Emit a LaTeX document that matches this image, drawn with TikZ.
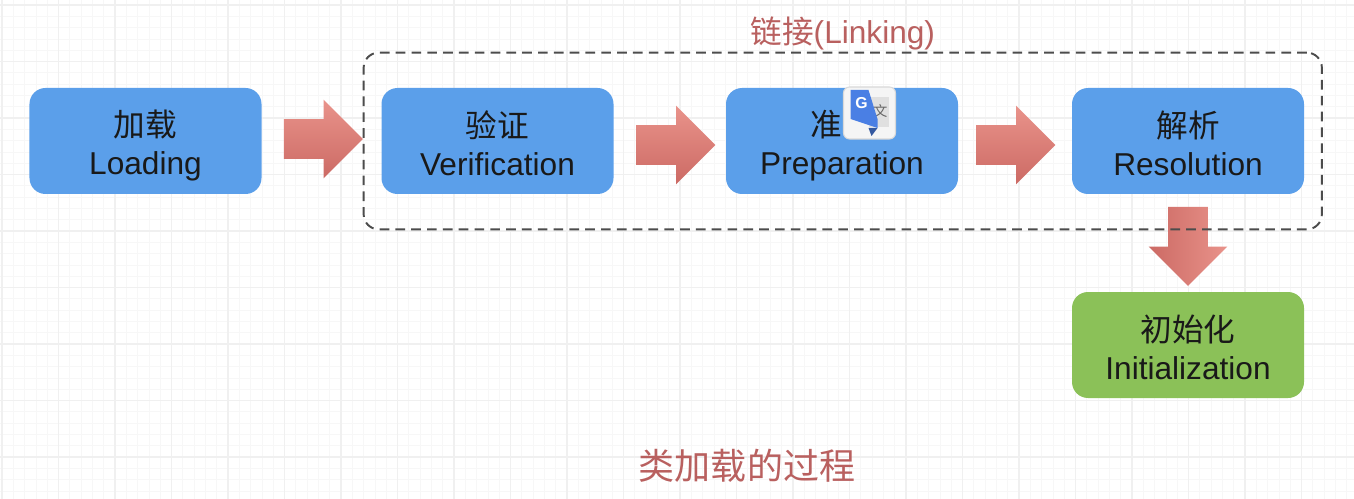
\documentclass[tikz,border=0pt]{standalone}
\usepackage{fontspec}
\setmainfont{Liberation Sans}
\newfontfamily\cjk{Noto Sans CJK SC}
\usetikzlibrary{shapes.arrows, fit}
\setlength{\lineskiplimit}{-20pt}
\definecolor{stageblue}{HTML}{5B9FEA}
\definecolor{stagegreen}{HTML}{8BC158}
\definecolor{titlered}{HTML}{B9605F}
\definecolor{arrowlight}{HTML}{E9938B}
\definecolor{arrowdark}{HTML}{CC6A64}
\definecolor{badgeblue}{HTML}{4A7FE4}
\newcommand{\stagetext}[2]{{\cjk\rule{0pt}{20.1pt}#1}\\#2\rule[-3pt]{0pt}{3pt}}
\tikzstyle{stage} = [rectangle, rounded corners=0.32cm, minimum width=4.64cm, minimum height=2.12cm, inner sep=0pt, align=center, text=black!90, fill=stageblue, font=\fontsize{18}{21.6}\selectfont]
\tikzstyle{blockarrow} = [single arrow, minimum width=1.56cm, minimum height=1.58cm, single arrow head extend=0.39cm, inner sep=0.39cm, top color=arrowlight, bottom color=arrowdark]
\begin{document}
\begin{tikzpicture}[node distance=7cm]
		% background grid
		\useasboundingbox (-2.91,2.82) rectangle (24.17,-7.14);
		\fill[white] (-2.91,2.82) rectangle (24.17,-7.14);
		\begin{scope}
			\clip (-2.91,2.82) rectangle (24.17,-7.14);
			\draw[black!3, line width=0.4pt, xshift=0.52cm, yshift=0.46cm, step=0.226cm] (-5,-9) grid (26,4);
			\draw[black!6, line width=0.6pt, xshift=0.52cm, yshift=0.46cm, step=1.13cm] (-5,-9) grid (26,4);
		\end{scope}

		\node (load) [stage] {\stagetext{加载}{Loading}};
		\node (verify) [stage, right of=load, node distance=7.04cm] {\stagetext{验证}{Verification}};
		\node (prepare) [stage, right of=verify, node distance=6.89cm] {\stagetext{准\phantom{备}}{Preparation}};
		\node (resolve) [stage, right of=prepare, node distance=6.92cm] {\stagetext{解析}{Resolution}};
		\node (init) [stage, fill=stagegreen, below of=resolve, node distance=4.08cm] {\stagetext{初始化}{Initialization}};

		\node (arrow1) [blockarrow, right of=load, node distance=3.36cm, yshift=0.04cm] {};
		\node (arrow2) [blockarrow, right of=verify, node distance=3.37cm, yshift=-0.08cm] {};
		\node (arrow3) [blockarrow, right of=prepare, node distance=3.28cm, yshift=-0.08cm] {};
		\node (arrow4) [blockarrow, shape border rotate=270, below of=resolve, node distance=1.91cm, left color=arrowdark, right color=arrowlight] {};

		\node (linkblok) [draw=black!70, line width=1.1pt, dash pattern=on 5.5pt off 3.5pt, rounded corners=0.3cm, inner xsep=0.35cm, inner ysep=0.7cm, fit={(verify) (resolve)}] {};
		\node (linktitle) [text=titlered, font=\fontsize{18}{22}\selectfont, above of=linkblok, node distance=2.16cm] {{\cjk 链接}(Linking)};
		\node (title) [text=titlered, font=\fontsize{20.5}{24}\selectfont\cjk] at (12.03,-6.5) {类加载的过程};

		% translate badge over the box
		\node (badge) [rectangle, rounded corners=0.12cm, minimum width=1.04cm, minimum height=1.04cm, inner sep=0pt, fill=black!4, draw=black!15, line width=0.6pt, right of=prepare, node distance=0.55cm, yshift=0.56cm] {};
		\fill[black!12] ([xshift=-0.02cm,yshift=0.32cm]badge.center) rectangle ([xshift=0.38cm,yshift=-0.28cm]badge.center);
		\node (badgewen) [text=black!60, font=\fontsize{8}{8}\selectfont\cjk] at ([xshift=0.22cm,yshift=0.04cm]badge.center) {文};
		\fill[badgeblue!70!black] ([xshift=-0.02cm,yshift=-0.3cm]badge.center) -- ([xshift=0.16cm,yshift=-0.3cm]badge.center) -- ([xshift=0.04cm,yshift=-0.46cm]badge.center) -- cycle;
		\fill[badgeblue] ([xshift=-0.38cm,yshift=0.46cm]badge.center) -- ([xshift=-0.02cm,yshift=0.46cm]badge.center) -- ([xshift=0.16cm,yshift=-0.12cm]badge.center) -- ([xshift=0.16cm,yshift=-0.3cm]badge.center) -- ([xshift=-0.38cm,yshift=-0.12cm]badge.center) -- cycle;
		\node (badgeg) [text=white, font=\fontsize{9}{9}\selectfont\bfseries] at ([xshift=-0.16cm,yshift=0.2cm]badge.center) {G};
	\end{tikzpicture}
\end{document}
